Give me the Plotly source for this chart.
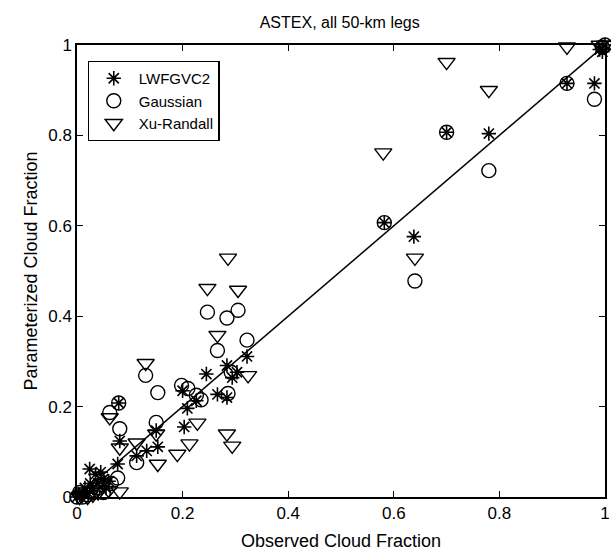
import plotly.graph_objects as go

# observed vs parameterized cloud fraction
lw_obs = [0.0, 0.005, 0.01, 0.015, 0.02, 0.025, 0.03, 0.035, 0.04, 0.05, 0.055, 0.06, 0.024, 0.045,
          0.077, 0.081, 0.079, 0.113, 0.132, 0.153, 0.15, 0.203, 0.209, 0.2, 0.226, 0.245, 0.266,
          0.284, 0.284, 0.294, 0.303, 0.322, 0.582, 0.638, 0.70, 0.78, 0.928, 0.98, 0.99, 1.0, 0.995]
lw_par = [0.0, 0.005, 0.01, 0.02, 0.01, 0.03, 0.02, 0.05, 0.03, 0.04, 0.02, 0.035, 0.062, 0.055,
          0.073, 0.124, 0.208, 0.091, 0.102, 0.111, 0.147, 0.155, 0.196, 0.235, 0.213, 0.272, 0.227,
          0.22, 0.291, 0.264, 0.276, 0.311, 0.607, 0.576, 0.807, 0.804, 0.915, 0.915, 0.99, 1.0, 0.985]

ga_obs = [0.0, 0.005, 0.01, 0.02, 0.03, 0.04, 0.05, 0.065, 0.077, 0.113, 0.081, 0.062, 0.079,
          0.13, 0.15, 0.153, 0.198, 0.21, 0.226, 0.235, 0.286, 0.292, 0.247, 0.284, 0.305, 0.266,
          0.322, 0.582, 0.64, 0.70, 0.78, 0.928, 0.98, 1.0, 0.995]
ga_par = [0.0, 0.01, 0.0, 0.005, 0.01, 0.02, 0.01, 0.03, 0.042, 0.076, 0.151, 0.187, 0.208,
          0.269, 0.165, 0.231, 0.247, 0.24, 0.225, 0.215, 0.229, 0.276, 0.409, 0.396, 0.413, 0.324,
          0.347, 0.607, 0.478, 0.807, 0.722, 0.915, 0.88, 1.0, 0.995]

xu_obs = [0.005, 0.01, 0.02, 0.03, 0.04, 0.05, 0.06, 0.081, 0.081, 0.062, 0.113, 0.153, 0.15,
          0.13, 0.19, 0.213, 0.228, 0.284, 0.294, 0.266, 0.247, 0.305, 0.286, 0.324, 0.58, 0.64,
          0.70, 0.78, 0.928, 0.99, 1.0]
xu_par = [0.0, 0.005, 0.0, 0.005, 0.01, 0.03, 0.015, 0.012, 0.109, 0.176, 0.12, 0.073, 0.14,
          0.296, 0.095, 0.118, 0.164, 0.14, 0.113, 0.358, 0.462, 0.458, 0.529, 0.269, 0.762, 0.529,
          0.962, 0.90, 0.996, 1.0, 1.0]

one_to_one = [0, 1]
ticks = [0, 0.2, 0.4, 0.6, 0.8, 1]
tick_text = ["0", "0.2", "0.4", "0.6", "0.8", "1"]

fig = go.Figure()
fig.add_trace(go.Scatter(x=one_to_one, y=one_to_one, mode="lines",
                         line=dict(color="black", width=1.5), showlegend=False))
fig.add_trace(go.Scatter(x=lw_obs, y=lw_par, mode="markers", name="LWFGVC2", cliponaxis=False,
                         marker=dict(symbol="asterisk-open", size=12, color="black",
                                     line=dict(color="black", width=1.6))))
fig.add_trace(go.Scatter(x=ga_obs, y=ga_par, mode="markers", name="Gaussian", cliponaxis=False,
                         marker=dict(symbol="circle-open", size=14, color="black",
                                     line=dict(color="black", width=1.4))))
fig.add_trace(go.Scatter(x=xu_obs, y=xu_par, mode="markers", name="Xu-Randall", cliponaxis=False,
                         marker=dict(symbol="triangle-down-open", size=15, color="black",
                                     line=dict(color="black", width=1.4))))

axis_style = dict(range=[0, 1], tickvals=ticks, ticktext=tick_text, ticks="inside", ticklen=6,
                  tickcolor="black", showline=True, linecolor="black", linewidth=1.5,
                  mirror="ticks", showgrid=False, zeroline=False, automargin=False,
                  ticklabeloverflow="allow", tickfont=dict(size=17, color="black"))

fig.update_layout(
    width=611, height=552,
    margin=dict(l=77, r=6, t=45, b=55),
    plot_bgcolor="white", paper_bgcolor="white",
    font=dict(family="Liberation Sans, Arial, sans-serif", color="black"),
    title=dict(text="ASTEX, all 50-km legs", x=0.556, xanchor="center", y=0.96, yanchor="middle",
               font=dict(size=16, color="black")),
    xaxis=dict(axis_style, title=dict(text="Observed Cloud Fraction", font=dict(size=18), standoff=12)),
    yaxis=dict(axis_style, title=dict(text="Parameterized Cloud Fraction", font=dict(size=18), standoff=6)),
    legend=dict(x=0.02, y=0.965, xanchor="left", yanchor="top", bordercolor="black", borderwidth=1.2,
                bgcolor="white", font=dict(size=15, color="black"), tracegroupgap=0, itemwidth=40),
)

# drop the default page margin so the figure sits at the window corner
fig.write_html("out.html", config={"displayModeBar": False},
               post_script="document.body.style.margin='0';")
